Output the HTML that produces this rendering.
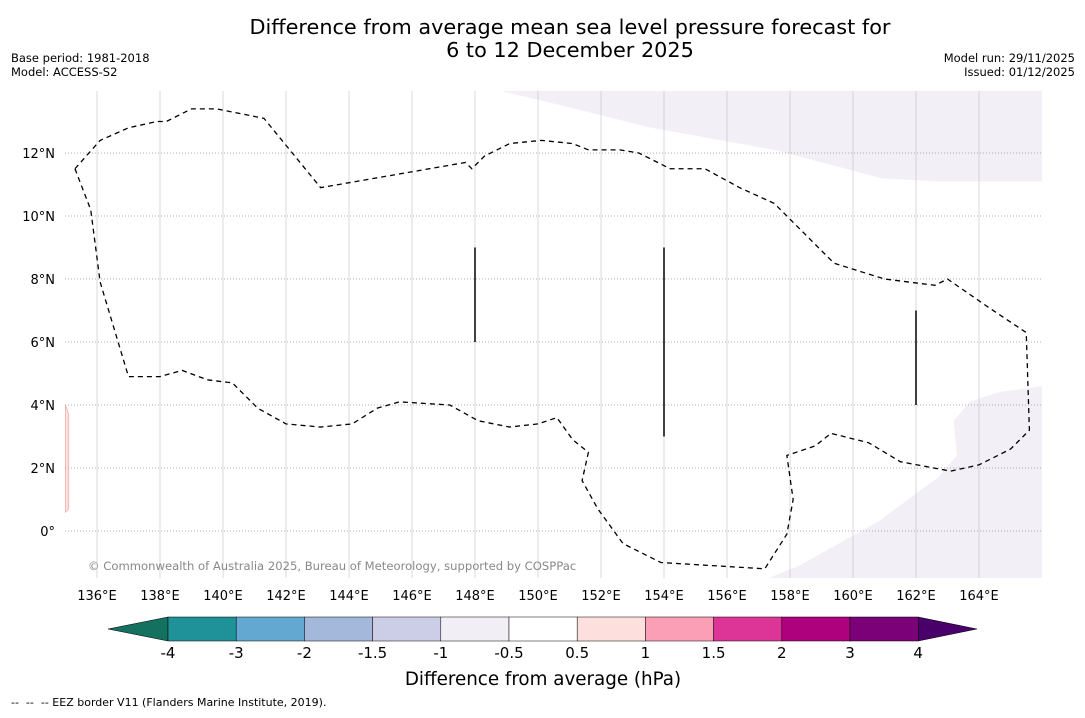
<!DOCTYPE html>
<html><head><meta charset="utf-8">
<style>
body{margin:0;background:#fff;font-family:"Liberation Sans",sans-serif;}
svg text{font-family:"DejaVu Sans","Liberation Sans",sans-serif;}
</style></head>
<body>
<svg id="chart" width="1085" height="713" viewBox="0 0 1085 713" xmlns="http://www.w3.org/2000/svg">
<rect width="1085" height="713" fill="#fff"/>
<text x="570" y="34" font-size="20.8" text-anchor="middle">Difference from average mean sea level pressure forecast for</text>
<text x="570" y="57" font-size="20.8" text-anchor="middle">6 to 12 December 2025</text>
<text x="11" y="62" font-size="11.5">Base period: 1981-2018</text>
<text x="11" y="76" font-size="11.5">Model: ACCESS-S2</text>
<text x="1075" y="62" font-size="11.5" text-anchor="end">Model run: 29/11/2025</text>
<text x="1075" y="76" font-size="11.5" text-anchor="end">Issued: 01/12/2025</text>
<g id="map"></g>
<g id="cbar"></g>
<text x="543" y="685" font-size="18.3" text-anchor="middle">Difference from average (hPa)</text>
<text x="11" y="706" font-size="11" xml:space="preserve">--  --  -- EEZ border V11 (Flanders Marine Institute, 2019).</text>
</svg>
<script>
const lonTicks=[136,138,140,142,144,146,148,150,152,154,156,158,160,162,164];
const latTicks=[0,2,4,6,8,10,12];
const levels=[-4,-3,-2,-1.5,-1,-0.5,0.5,1,1.5,2,3,4];
const levelLabels=["-4","-3","-2","-1.5","-1","-0.5","0.5","1","1.5","2","3","4"];
const levelColors=["#1f9198","#63a8d0","#a3b8db","#cccde6","#f2eef6","#ffffff","#fde0dd","#fa9fb5","#dd3497","#ae017e","#7a0177"];
const extendColors=["#14705f","#49006a"];
const eezLon=[135.3,135.8,136.1,137.0,138.0,138.7,139.5,140.3,141.1,142.0,143.1,144.1,144.9,145.6,147.2,148.1,149.1,150.0,150.6,151.1,151.6,151.4,151.9,152.7,153.9,157.2,157.9,158.1,157.9,158.8,159.3,160.5,161.5,163.1,164.0,165.0,165.6,165.5,164.3,163.0,162.6,161.0,159.4,157.5,156.4,155.3,154.2,153.2,152.6,151.6,151.1,150.1,149.1,148.3,147.9,147.7,143.1,141.3,139.8,139.0,138.2,137.9,137.0,136.1,135.3];
const eezLat=[11.5,10.2,7.9,4.9,4.9,5.1,4.8,4.7,3.9,3.4,3.3,3.4,3.9,4.1,4.0,3.5,3.3,3.4,3.6,2.9,2.5,1.6,0.7,-0.4,-1.0,-1.2,-0.1,1.0,2.4,2.7,3.1,2.8,2.2,1.9,2.1,2.6,3.2,6.3,7.1,8.0,7.8,8.0,8.5,10.4,10.9,11.5,11.5,12.0,12.1,12.1,12.3,12.4,12.3,11.9,11.5,11.7,10.9,13.1,13.4,13.4,13.0,13.0,12.8,12.4,11.5];
const upperLon=[148.7,151.2,153.6,157.5,159.4,160.9,162.6,167,167];
const upperLat=[14,13.4,12.8,12.1,11.6,11.2,11.1,11.1,14];
const lowerLon=[157.3,158.3,160.8,162.7,163.3,163.2,163.7,164.6,166,166];
const lowerLat=[-1.5,-1.1,0.3,1.7,2.4,3.5,4.1,4.4,4.6,-1.5];
const pinkLon=[135,135.1,135.1,135];
const pinkLat=[4,3.7,0.7,0.6];
const meridianLon=[148,154,162];
const meridianLat0=[6,3,4];
const meridianLat1=[9,9,7];
const X=lon=>65.5+(lon-135)*31.5;
const Y=lat=>531-lat*31.5;
const NS="http://www.w3.org/2000/svg";
function mk(tag,attrs,parent){const e=document.createElementNS(NS,tag);for(const k in attrs)e.setAttribute(k,attrs[k]);parent.appendChild(e);return e;}
const map=document.getElementById('map');
const L=65,R=1042,T=91,B=578;
const clip=mk('clipPath',{id:'mc'},map);mk('rect',{x:L,y:T,width:R-L,height:B-T},clip);
const g=mk('g',{'clip-path':'url(#mc)'},map);
function poly(lons,lats,attrs){const pts=lons.map((v,i)=>X(v)+','+Y(lats[i])).join(' ');return mk('polygon',Object.assign({points:pts},attrs),g);}
let p=poly(upperLon,upperLat,{fill:'#f3eff6'});


p=poly(lowerLon,lowerLat,{fill:'#f3eff6'});


p=poly(pinkLon,pinkLat,{fill:'#fde0dd',stroke:'#f4b8b8','stroke-width':1});


lonTicks.forEach(v=>{
 const l=mk('line',{x1:X(v),x2:X(v),y1:T,y2:B,stroke:'#c8c8c8','stroke-width':0.7},g);
 
 
 const t=mk('text',{x:X(v),y:600,'font-size':13,'text-anchor':'middle'},map);t.textContent=v+'°E';
 
 
});
latTicks.forEach(v=>{
 const l=mk('line',{x1:L,x2:R,y1:Y(v),y2:Y(v),stroke:'#999','stroke-width':0.7,'stroke-dasharray':'1,2'},g);
 
 
 const t=mk('text',{x:55,y:Y(v)+5,'font-size':13,'text-anchor':'end'},map);t.textContent=v===0?'0°':v+'°N';
 
 
});
meridianLon.forEach((v,i)=>{
 const l=mk('line',{x1:X(v),x2:X(v),y1:Y(meridianLat1[i]),y2:Y(meridianLat0[i]),stroke:'#000','stroke-width':1.5},g);
 
 
});
const eez=mk('polyline',{points:eezLon.map((v,i)=>X(v)+','+Y(eezLat[i])).join(' '),fill:'none',stroke:'#000','stroke-width':1.3,'stroke-dasharray':'5,4'},g);


const cp=mk('text',{x:88,y:570,'font-size':11.6,fill:'#888'},map);cp.textContent='© Commonwealth of Australia 2025, Bureau of Meteorology, supported by COSPPac';


const cb=document.getElementById('cbar');
const cx0=168,cw=68.2,cy=617,ch=24;
const CX=i=>cx0+i*cw;
const n=levels.length;
let tri=mk('polygon',{points:`${CX(0)},${cy} ${CX(0)},${cy+ch} 108,${cy+ch/2}`,fill:extendColors[0],stroke:'#000','stroke-width':0.5},cb);


tri=mk('polygon',{points:`${CX(n-1)},${cy} ${CX(n-1)},${cy+ch} 977,${cy+ch/2}`,fill:extendColors[1],stroke:'#000','stroke-width':0.5},cb);


levelColors.forEach((c,i)=>{
 const r=mk('rect',{x:CX(i),y:cy,width:cw,height:ch,fill:c,stroke:'#000','stroke-width':0.5},cb);
 
 
});
levelLabels.forEach((s,i)=>{
 const t=mk('text',{x:CX(i),y:658,'font-size':15,'text-anchor':'middle'},cb);t.textContent=s;
 
 
});
</script>
</body></html>
